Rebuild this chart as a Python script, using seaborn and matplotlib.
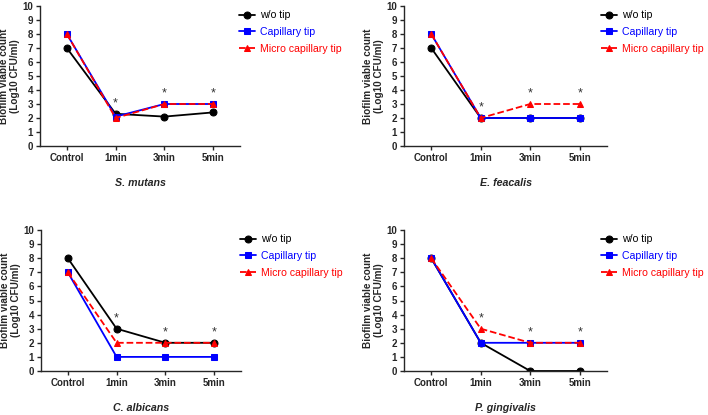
import matplotlib
matplotlib.use('Agg')
import matplotlib.pyplot as plt
import seaborn as sns
import pandas as pd

# data
waktu = ['Control', '1min', '3min', '5min']
organisme = ['S. mutans', 'E. feacalis', 'C. albicans', 'P. gingivalis']

wo_tip = [[7, 2.3, 2.1, 2.4], [7, 2, 2, 2], [8, 3, 2, 2], [8, 2, 0, 0]]
capillary_tip = [[8, 2.1, 3, 3], [8, 2, 2, 2], [7, 1, 1, 1], [8, 2, 2, 2]]
micro_capillary_tip = [[8, 2, 3, 3], [8, 2, 3, 3], [7, 2, 2, 2], [8, 3, 2, 2]]

bintang = ['1min', '3min', '5min']

sns.set_style('ticks')
plt.rcParams['font.family'] = ['Liberation Sans', 'DejaVu Sans']

fig = plt.figure(figsize=(7.08, 4.15), dpi=100)
posisi = [
    [40 / 708, 1 - 146 / 415, 200 / 708, 140 / 415],
    [404 / 708, 1 - 146 / 415, 203 / 708, 140 / 415],
    [41 / 708, 1 - 371 / 415, 200 / 708, 141 / 415],
    [404 / 708, 1 - 371 / 415, 203 / 708, 141 / 415],
]
legend_x = [0.995, 0.97, 0.995, 0.97]

seri = [
    ('w/o tip', wo_tip, 'black', 'o', '-'),
    ('Capillary tip', capillary_tip, '#0000FF', 's', '-'),
    ('Micro capillary tip', micro_capillary_tip, '#FF0000', '^', '--'),
]

for i, nama in enumerate(organisme):
    ax = fig.add_axes(posisi[i])
    for label, nilai, warna, mk, ls in seri:
        df = pd.DataFrame({'x': range(len(waktu)), 'y': nilai[i]})
        sns.lineplot(data=df, x='x', y='y', ax=ax, color=warna, marker=mk,
                     linestyle=ls, linewidth=1.3, markersize=5,
                     markeredgecolor=warna, label=label)
    # tanda bintang
    for w in bintang:
        k = waktu.index(w)
        puncak = max(wo_tip[i][k], capillary_tip[i][k], micro_capillary_tip[i][k])
        ax.text(k, puncak + 0.3, '*', ha='center', va='bottom', fontsize=9, color='#333333')
    ax.set_xlim(-0.55, 3.55)
    ax.set_ylim(0, 10)
    ax.set_yticks(range(0, 11))
    ax.set_xticks(range(len(waktu)))
    ax.set_xticklabels(waktu)
    ax.tick_params(labelsize=7, width=1, length=3, pad=2)
    for t in ax.get_xticklabels() + ax.get_yticklabels():
        t.set_fontweight('bold')
    ax.set_xlabel(nama, fontsize=7.7, fontweight='bold', fontstyle='italic', labelpad=11)
    ax.set_ylabel('Biofilm viable count\n(Log10 CFU/ml)', fontsize=7.2, fontweight='bold',
                  labelpad=2, linespacing=1.1)
    for s in ['left', 'bottom']:
        ax.spines[s].set_linewidth(1)
    sns.despine(ax=ax)
    leg = ax.legend(loc='upper left', bbox_to_anchor=(legend_x[i], 0.97), frameon=False,
                    fontsize=7.6, handlelength=1.5, handletextpad=0.5, labelspacing=0.65,
                    borderaxespad=0, borderpad=0)
    for teks, (_, _, warna, _, _) in zip(leg.get_texts(), seri):
        teks.set_color(warna)

fig.savefig('out.png', dpi=100)
